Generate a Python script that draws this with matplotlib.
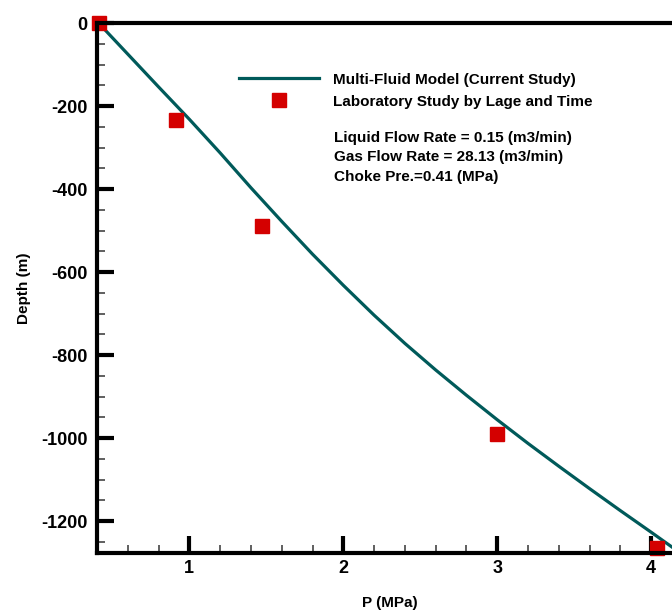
import matplotlib.pyplot as plt
import numpy as np
from matplotlib.ticker import MultipleLocator

plt.rcParams['font.family'] = ['Liberation Sans', 'DejaVu Sans']
plt.rcParams['axes.unicode_minus'] = False

# model curve
model_p = [0.41, 0.60, 0.80, 1.00, 1.20, 1.40, 1.60, 1.80, 2.00, 2.20, 2.40, 2.60,
           2.80, 3.00, 3.20, 3.40, 3.60, 3.80, 4.00, 4.14]
model_depth = [0, -75, -154, -232, -313, -397, -478, -557, -632, -704, -772, -836,
               -897, -956, -1013, -1068, -1122, -1175, -1227, -1264]

# laboratory data
lab_p = [0.41, 0.91, 1.47, 3.00, 4.04]
lab_depth = [0, -234, -489, -990, -1265]

teal = '#005a5a'
red = '#d40000'

fig = plt.figure(figsize=(6.72, 6.10), dpi=100)
ax = fig.add_axes([97/672, 57/610, 585/672, 530/610])

ax.plot(model_p, model_depth, color=teal, lw=2.3, label='Multi-Fluid Model (Current Study)')
ax.plot(lab_p, lab_depth, 's', color=red, ms=10, mec=red, clip_on=False,
        label='Laboratory Study by Lage and Time')

ax.set_xlim(0.4, 4.2)
ax.set_ylim(-1277, 0)

ax.xaxis.set_major_locator(MultipleLocator(1))
ax.xaxis.set_minor_locator(MultipleLocator(0.2))
ax.yaxis.set_major_locator(MultipleLocator(200))
ax.yaxis.set_minor_locator(MultipleLocator(50))
ax.tick_params(which='major', direction='in', length=12, width=3, labelsize=13)
ax.tick_params(which='minor', direction='in', length=6, width=1.2, color='#444444')
ax.tick_params(axis='x', which='major', pad=5)
ax.tick_params(axis='y', which='major', pad=7)
for lab in ax.get_xticklabels() + ax.get_yticklabels():
    lab.set_fontweight('bold')

for s in ['left', 'bottom', 'top']:
    ax.spines[s].set_linewidth(3)
ax.spines['right'].set_visible(False)

ax.set_xlabel('P (MPa)', fontsize=11, fontweight='bold')
ax.set_ylabel('Depth (m)', fontsize=11, fontweight='bold')
ax.xaxis.set_label_coords(0.5, -0.081)
ax.yaxis.set_label_coords(-0.112, 0.5)

leg = ax.legend(loc='upper left', bbox_to_anchor=(0.22, 0.932), frameon=False,
                handlelength=5.2, handletextpad=0.9, labelspacing=0.52,
                prop={'size': 11, 'weight': 'bold'})

ax.text(0.405, 0.797, 'Liquid Flow Rate = 0.15 (m3/min)\nGas Flow Rate = 28.13 (m3/min)\nChoke Pre.=0.41 (MPa)',
        transform=ax.transAxes, ha='left', va='top', fontsize=11, fontweight='bold',
        linespacing=1.5)

fig.savefig('out.png', dpi=100)
